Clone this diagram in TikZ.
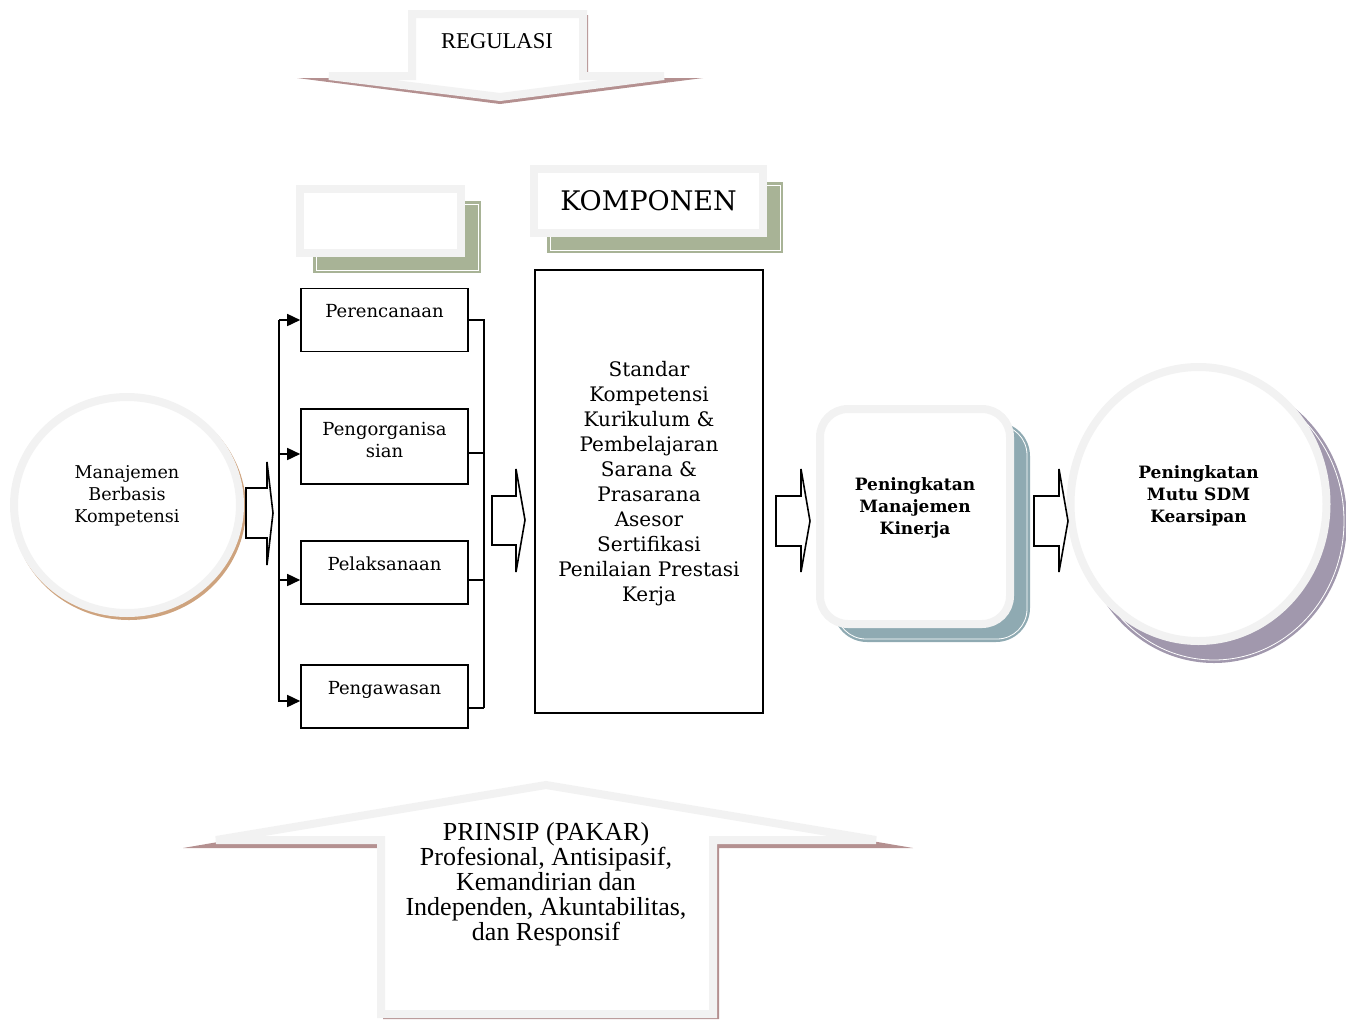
\documentclass[tikz,border=0pt]{standalone}
\usepackage{fontspec}
\setmainfont{DejaVu Serif}
\newfontfamily\tiempo{Liberation Serif}
\usetikzlibrary{arrows.meta,shapes.geometric}
\definecolor{Gris}{RGB}{242,242,242}
\definecolor{Rosa}{RGB}{180,144,144}
\definecolor{Verde}{RGB}{168,179,150}
\definecolor{Cafe}{RGB}{206,163,126}
\definecolor{Azul}{RGB}{143,170,178}
\definecolor{Lila}{RGB}{161,152,173}
%espacio extra bajo la ultima linea (sube el texto)
\newcommand{\hueco}[1]{\rule[-#1]{0pt}{#1}}

\tikzset{
  marco/.style={draw=Gris, line width=4pt, fill=white, inner sep=0pt},
  caja/.style={draw, line width=0.8pt, minimum width=83.5pt, inner sep=0pt,
    font=\fontsize{9}{11}\selectfont},
  arriba/.style={minimum height=31.5pt, text height=14.5pt, text depth=17pt},
  flecha/.style={draw, line width=0.8pt, fill=white, line join=miter},
  punta/.style={line width=0.8pt, -{Triangle[length=6.5pt,width=6pt]}},
  linea/.style={line width=0.8pt},
  bordeblanco/.style={draw=white, line width=0.4pt}
}

\begin{document}
\begin{tikzpicture}[x=0.5pt, y=-0.5pt]
	\useasboundingbox (0,0) rectangle (1346,1019);

	%Flecha REGULASI (sombra y luego el marco)
	\fill[Rosa] (415,15) -- (588,15) -- (588,78) -- (703,78) -- (500,104) -- (297,78) -- (415,78) -- cycle;
	\draw[marco] (412,14) -- (583,14) -- (583,76) -- (664,76) -- (500,97) -- (329,76) -- (412,76) -- cycle;
	\node[font=\tiempo\fontsize{11.3}{12.5}\selectfont] (reg) at (497,41) {REGULASI};

	%Cuadro vacio
	\fill[Verde] (313,201) rectangle (481,273);
	\draw[bordeblanco] (316,204) rectangle (478,270);
	\node[marco, minimum width=80.5pt, minimum height=32pt] (vacio) at (380.5,221) {};

	%Cuadro KOMPONEN
	\fill[Verde] (547,182) rectangle (783,253);
	\draw[bordeblanco] (550,185) rectangle (780,250);
	\node[marco, minimum width=114.5pt, minimum height=32pt,
	  font=\fontsize{13.5}{16}\selectfont] (titulo) at (648.5,201) {KOMPONEN};

	%Circulo Manajemen
	\fill[Cafe] (129,508) ellipse [x radius=58.5pt, y radius=56pt];
	\node[marco, ellipse, minimum width=113pt, minimum height=108pt, align=center,
	  font=\fontsize{8.8}{11}\selectfont] (mbk) at (127,505) {Manajemen\\Berbasis\\Kompetensi\hueco{11pt}};

	%Funciones
	\node[caja, arriba] (p1) at (384.5,320) {Perencanaan};
	\node[caja, minimum height=37.5pt, align=center] (p2) at (384.5,446.5) {Pengorganisa\\sian\hueco{6.5pt}};
	\node[caja, arriba] (p3) at (384.5,572.5) {Pelaksanaan};
	\node[caja, arriba] (p4) at (384.5,696.5) {Pengawasan};

	%Linea izquierda con puntas
	\coordinate (izq1) at (279,320);
	\coordinate (izq2) at (279,701);
	\draw[linea] (izq1) -- (izq2);
	\draw[punta] (izq1) -- (p1.west);
	\draw[punta] (p2.west) ++(-22,7.5) -- ++(22,0);
	\draw[punta] (p3.west) ++(-22,7.5) -- ++(22,0);
	\draw[punta] (p4.west) ++(-22,4.5) -- ++(22,0);

	%Linea derecha
	\coordinate (der1) at (484,320);
	\coordinate (der2) at (484,708);
	\draw[linea] (p1.east) -- (der1) -- (der2);
	\draw[linea] (p2.east) ++(0,6.5) -- ++(16,0);
	\draw[linea] (p3.east) ++(0,7.5) -- ++(16,0);
	\draw[linea] (p4.east) ++(0,11.5) -- (der2);

	%Componentes
	\node[draw, line width=0.8pt, minimum width=114pt, minimum height=221.5pt, align=center,
	  font=\fontsize{10}{12.5}\selectfont] (std) at (649,491.5)
	  {Standar\\Kompetensi\\Kurikulum \&\\Pembelajaran\\Sarana \&\\Prasarana\\Asesor\\Sertifikasi\\Penilaian Prestasi\\Kerja\hueco{10.5pt}};

	%Cuadro Kinerja
	\fill[Azul, rounded corners=17pt] (833,422) rectangle (1030,642);
	\draw[bordeblanco, rounded corners=15pt] (836,425) rectangle (1027,639);
	\node[marco, rounded corners=14pt, minimum width=95pt, minimum height=107.5pt, align=center,
	  font=\bfseries\fontsize{8.5}{11}\selectfont] (pmk) at (915,516.5) {Peningkatan\\Manajemen\\Kinerja\hueco{10.5pt}};

	%Circulo Mutu
	\fill[Lila] (1214,521) ellipse [x radius=66.5pt, y radius=71pt];
	\draw[bordeblanco] (1214,521) ellipse [x radius=65pt, y radius=69.5pt];
	\node[marco, ellipse, minimum width=128pt, minimum height=137pt, align=center,
	  font=\bfseries\fontsize{8.5}{11}\selectfont] (mutu) at (1198.5,504) {Peningkatan\\Mutu SDM\\Kearsipan\hueco{10pt}};

	%Flechas de bloque
	\draw[flecha] (246,488) -- (267,488) -- (267,462) -- (273,513) -- (267,565) -- (267,538) -- (246,538) -- cycle;
	\draw[flecha] (492,496) -- (516,496) -- (516,469) -- (525,520) -- (516,572) -- (516,545) -- (492,545) -- cycle;
	\draw[flecha] (776,496) -- (801,496) -- (801,469) -- (810,521) -- (801,572) -- (801,546) -- (776,546) -- cycle;
	\draw[flecha] (1034,496) -- (1059,496) -- (1059,469) -- (1068,521) -- (1059,572) -- (1059,546) -- (1034,546) -- cycle;

	%Flecha PRINSIP
	\fill[Rosa] (183,848) -- (546,786) -- (913,848) -- (719,848) -- (719,1019) -- (383,1019) -- (383,848) -- cycle;
	\draw[marco] (216,840) -- (546,785) -- (876,840) -- (713,840) -- (713,1014) -- (381,1014) -- (381,840) -- cycle;
	\node[font=\tiempo\fontsize{13}{12.5}\selectfont, align=center] (prinsip) at (546,884.5)
	  {PRINSIP (PAKAR)\\Profesional, Antisipasif,\\Kemandirian dan\\Independen, Akuntabilitas,\\dan Responsif};
\end{tikzpicture}
\end{document}
